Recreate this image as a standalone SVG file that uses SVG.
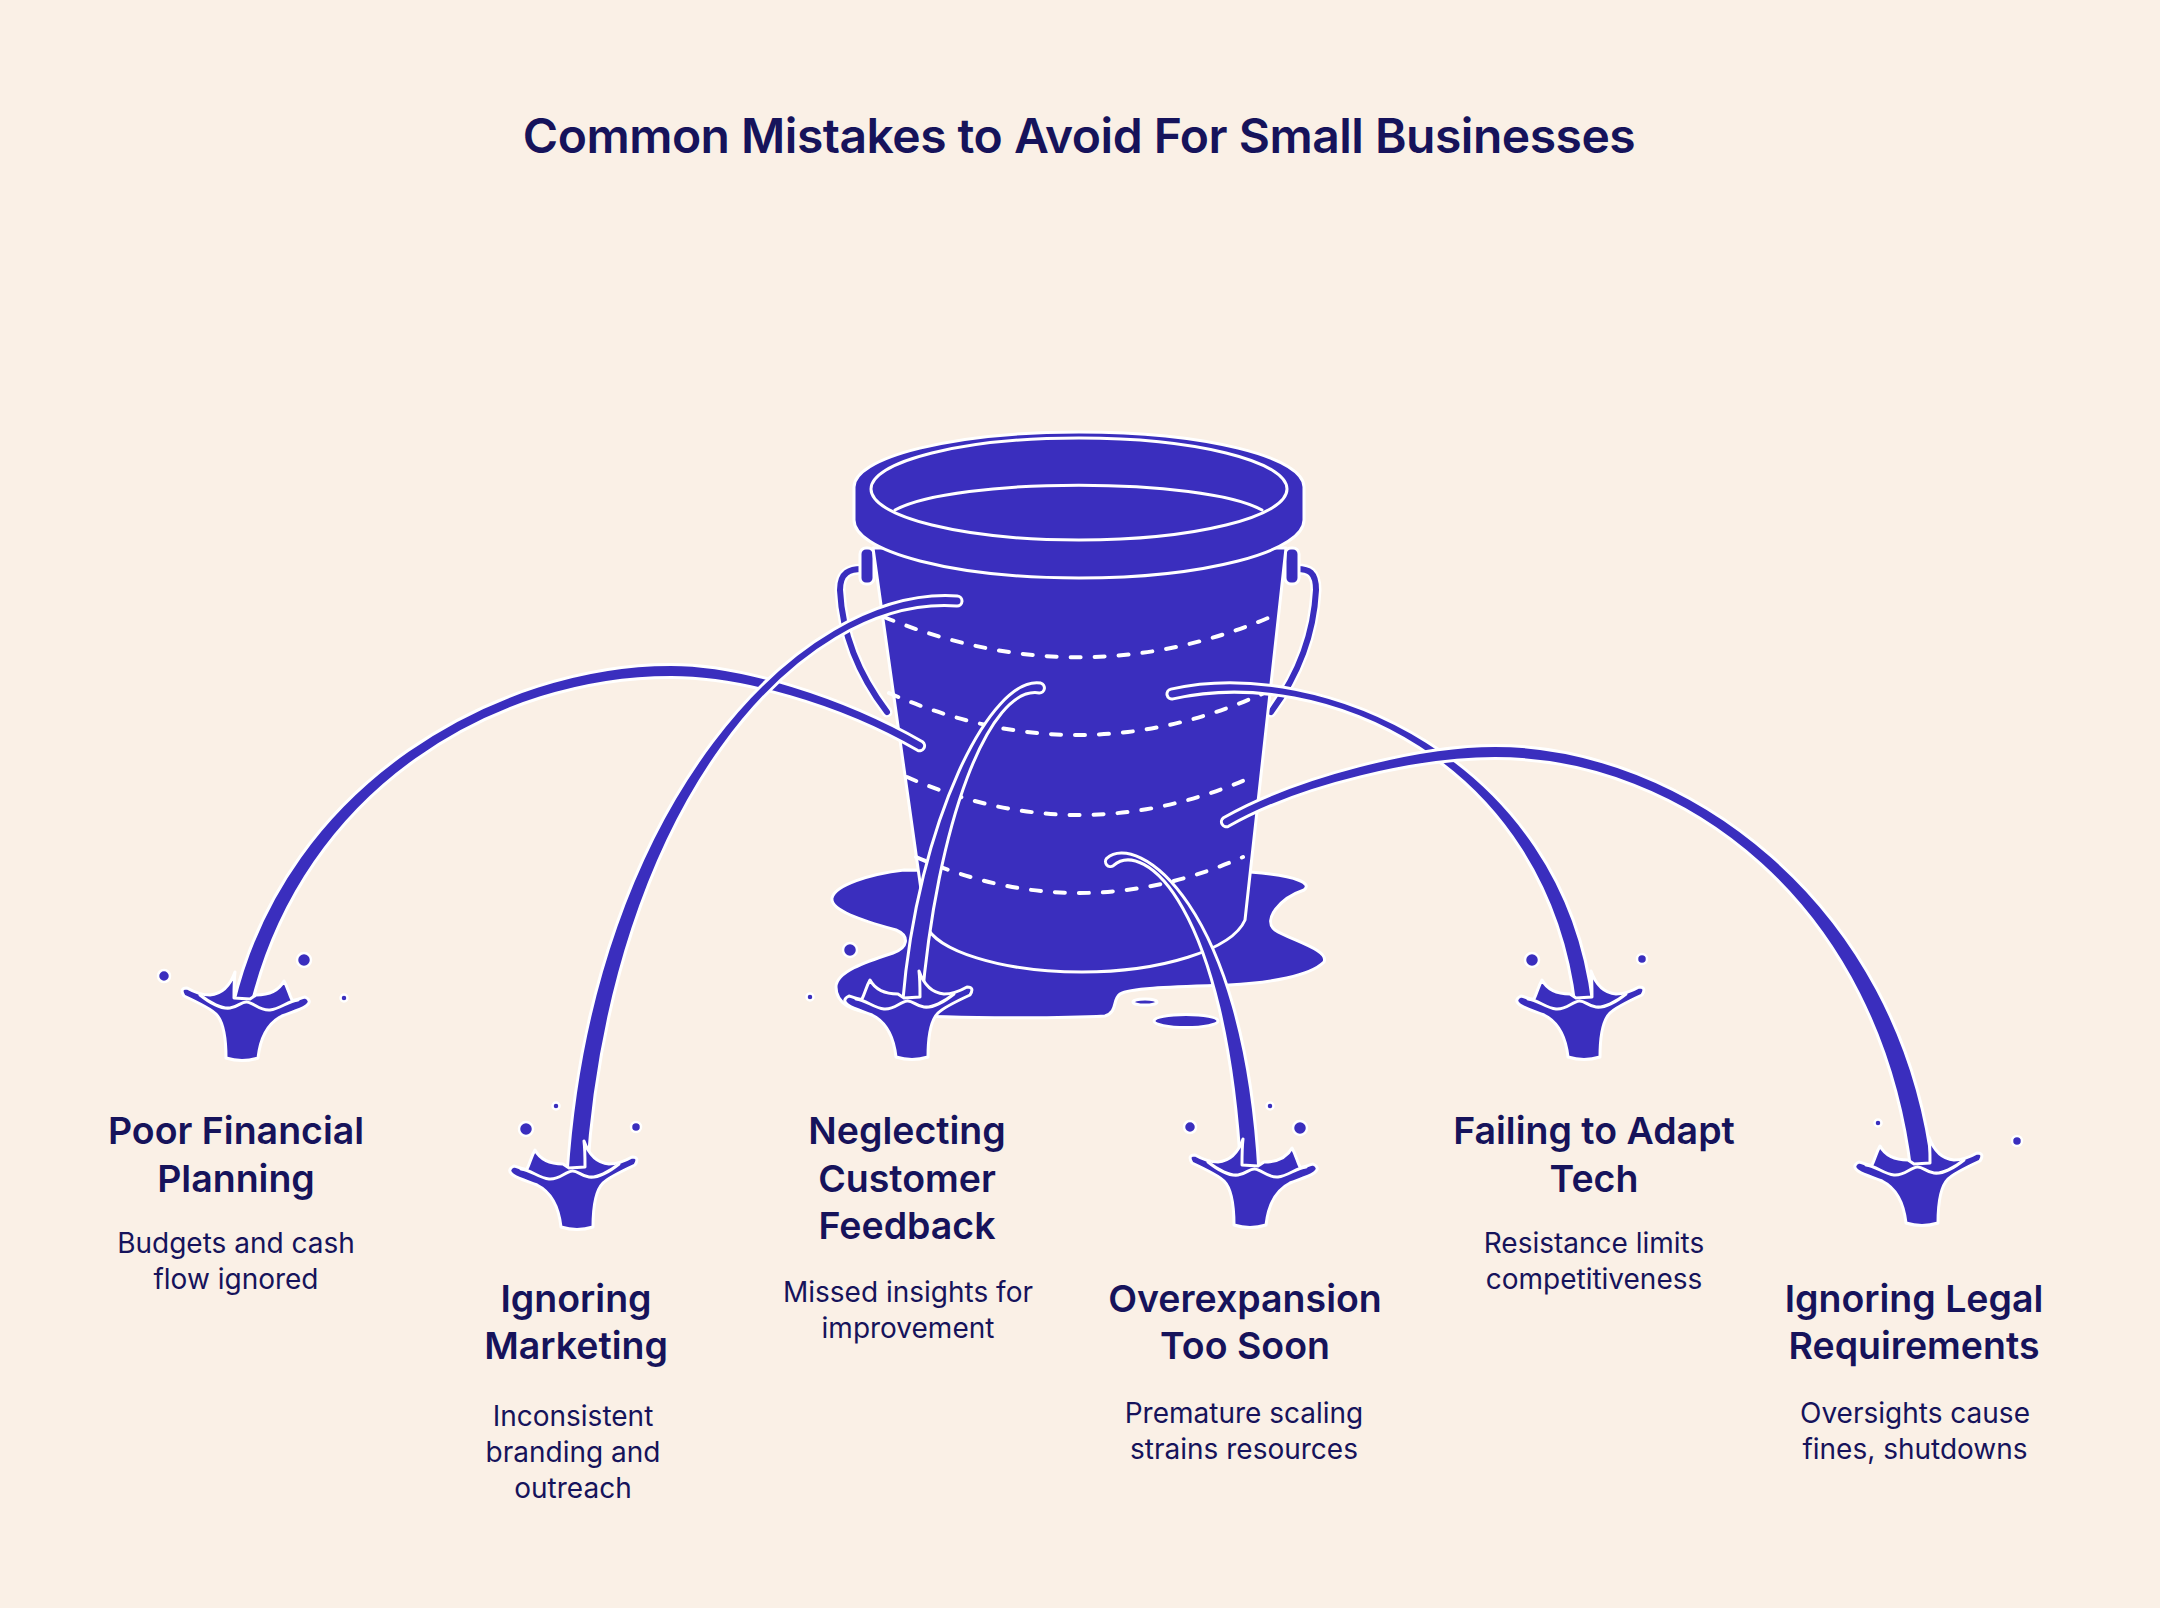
<svg xmlns="http://www.w3.org/2000/svg" xmlns:xlink="http://www.w3.org/1999/xlink" width="2160" height="1608" viewBox="0 0 2160 1608">
<style>
.bg{fill:#FAF0E6}
.blue{fill:#3A2EBE;stroke:#FFFFFF;stroke-width:3;stroke-linejoin:round}
.wire{fill:none;stroke:#3A2EBE;stroke-width:6;stroke-linecap:round}
.wireo{fill:none;stroke:#FFFFFF;stroke-width:11;stroke-linecap:round}
.wl{fill:none;stroke:#FFFFFF;stroke-width:3;stroke-linecap:round}
.dash{fill:none;stroke:#FFFFFF;stroke-width:4;stroke-linecap:round;stroke-dasharray:10 14}
.drop{fill:#3A2EBE;stroke:#FFFFFF;stroke-width:2.5}
.ttl{font-family:Inter,"Liberation Sans",sans-serif;font-weight:600;font-size:48px;letter-spacing:-0.5px;fill:#16135B;text-anchor:middle}
.h{font-family:Inter,"Liberation Sans",sans-serif;font-weight:600;font-size:37.5px;fill:#16135B;text-anchor:middle}
.d{font-family:Inter,"Liberation Sans",sans-serif;font-weight:400;font-size:28px;fill:#16135B;text-anchor:middle}
</style>
<defs>
<g id="splashA">
<path class="blue" d="M -16,0 Q 0,5 16,0 C 18,-18 24,-34 40,-42 C 50,-46 58,-48 64,-52 Q 71,-57 63,-61 C 58,-60 54,-57 50,-58 C 47,-64 46,-70 42,-77 C 36,-66 26,-63 14,-63 L 8,-59 L -8,-60 C -8,-70 -8,-78 -7,-86 C -12,-72 -20,-64 -32,-63 C -40,-63 -48,-66 -55,-70 Q -63,-70 -58,-62 C -45,-56 -32,-50 -26,-44 C -18,-36 -16,-18 -16,0 Z"/>
<path class="wl" d="M -42,-63 C -32,-55 -20,-49 -12,-50 C -4,-51 0,-57 5,-56 C 12,-55 18,-47 28,-48 C 38,-49 46,-57 56,-58"/>
</g>
</defs>
<rect class="bg" x="0" y="0" width="2160" height="1608"/>
<g id="title">
<text class="ttl" x="1079" y="153">Common Mistakes to Avoid For Small Businesses</text>
</g>
<g id="bucket">
<path class="blue" d="M 904,870 C 870,874 835,885 832,898 C 830,910 860,920 896,930 C 910,936 908,948 893,953 C 865,962 836,972 836,987 C 836,1003 850,1012 880,1014 C 940,1018 1050,1019 1105,1016 C 1118,1012 1112,1000 1120,994 C 1130,988 1170,987 1229,985 C 1270,983 1310,976 1324,962 C 1330,950 1290,940 1275,930 C 1262,920 1280,898 1304,890 C 1312,884 1300,876 1250,872 Z"/>
<ellipse class="blue" cx="1145" cy="1002" rx="12" ry="3"/>
<ellipse class="blue" cx="1186" cy="1021" rx="32" ry="6.5"/>
<path class="wireo" d="M 862,569 C 850,569 840,572 840,590 C 842,630 855,670 887,712"/>
<path class="wire" d="M 862,569 C 850,569 840,572 840,590 C 842,630 855,670 887,712"/>
<path class="wireo" d="M 1297,569 C 1309,569 1316,572 1316,590 C 1314,630 1302,670 1271,712"/>
<path class="wire" d="M 1297,569 C 1309,569 1316,572 1316,590 C 1314,630 1302,670 1271,712"/>
<rect class="blue" x="860" y="548" width="14" height="36" rx="6"/>
<rect class="blue" x="1285" y="548" width="14" height="36" rx="6"/>
<path class="blue" d="M 873,548 L 926,925 C 935,950 1000,972 1082,972 C 1160,972 1232,950 1245,920 L 1286,548 Z"/>
<path class="dash" d="M 884,617 Q 1079,697 1268,618"/>
<path class="dash" d="M 889,693 Q 1079,777 1264,693"/>
<path class="dash" d="M 907,777 Q 1079,853 1252,777"/>
<path class="dash" d="M 916,857 Q 1079,929 1243,857"/>
<path class="blue" d="M 854,487 A 225 55 0 0 1 1304,487 L 1304,520 A 225 58 0 0 1 854,520 Z"/>
<ellipse class="blue" cx="1079" cy="489" rx="208" ry="51"/>
<path class="wl" d="M 895,510 C 955,477 1203,477 1262,510"/>
</g>
<g id="connectors">
<path class="blue" d="M 917.5,750.3 C 837.5,704.3 740,677.5 671,677.5 C 500,677.5 303.8,785.1 250.8,1008.1 L 233.2,1003.9 C 286.2,780.9 500,664.5 671,664.5 C 740,664.5 842.5,695.7 922.5,741.7 A 5 5 0 0 1 917.5,750.3 Z"/>
<path class="blue" d="M 956.65,606 C 799.65,595 611,804.6 587,1175.6 L 567,1174.4 C 591,803.4 800.35,585 957.35,596 A 5 5 0 0 1 956.65,606 Z"/>
<path class="blue" d="M 1039.2,692.9 C 989.2,684.9 936.5,822.8 921.5,1005.8 L 902.5,1004.2 C 917.5,821.2 990.8,675.1 1040.8,683.1 A 5 5 0 0 1 1039.2,692.9 Z"/>
<path class="blue" d="M 1106.7,858.3 C 1136.7,831.3 1244,902.5 1259,1172.5 L 1241,1173.5 C 1226,903.5 1143.3,838.7 1113.3,865.7 A 5 5 0 0 1 1106.7,858.3 Z"/>
<path class="blue" d="M 1170.9,689.1 C 1318.9,655.1 1563.9,757.9 1592.9,1003.9 L 1575.1,1006.1 C 1546.1,760.1 1321.1,664.9 1173.1,698.9 A 5 5 0 0 1 1170.9,689.1 Z"/>
<path class="blue" d="M 1223.5,817.7 C 1297.5,775.7 1420,745.5 1495,745.5 C 1680,745.5 1900.9,898.7 1932.9,1169.7 L 1911.1,1172.3 C 1879.1,901.3 1680,758.5 1495,758.5 C 1420,758.5 1302.5,784.3 1228.5,826.3 A 5 5 0 0 1 1223.5,817.7 Z"/>
</g>
<g id="node-1">
<use xlink:href="#splashA" href="#splashA" transform="translate(242,1058)"/>
<circle class="drop" cx="164" cy="976" r="6"/>
<circle class="drop" cx="304" cy="960" r="7"/>
<circle class="drop" cx="344" cy="998" r="3.5"/>
<text class="h" x="236" y="1144">Poor Financial</text>
<text class="h" x="236" y="1192">Planning</text>
<text class="d" x="236" y="1253">Budgets and cash</text>
<text class="d" x="236" y="1289">flow ignored</text>
</g>
<g id="node-2">
<use xlink:href="#splashA" href="#splashA" transform="translate(577,1227) scale(-1,1)"/>
<circle class="drop" cx="526" cy="1129" r="7"/>
<circle class="drop" cx="556" cy="1106" r="3.5"/>
<circle class="drop" cx="636" cy="1127" r="5"/>
<text class="h" x="576" y="1312">Ignoring</text>
<text class="h" x="576" y="1359">Marketing</text>
<text class="d" x="573" y="1426">Inconsistent</text>
<text class="d" x="573" y="1462">branding and</text>
<text class="d" x="573" y="1498">outreach</text>
</g>
<g id="node-3">
<use xlink:href="#splashA" href="#splashA" transform="translate(912,1057) scale(-1,1)"/>
<circle class="drop" cx="850" cy="950" r="7"/>
<circle class="drop" cx="810" cy="997" r="3.5"/>
<text class="h" x="907" y="1144">Neglecting</text>
<text class="h" x="907" y="1192">Customer</text>
<text class="h" x="907" y="1239">Feedback</text>
<text class="d" x="908" y="1302">Missed insights for</text>
<text class="d" x="908" y="1338">improvement</text>
</g>
<g id="node-4">
<use xlink:href="#splashA" href="#splashA" transform="translate(1250,1225)"/>
<circle class="drop" cx="1190" cy="1127" r="6"/>
<circle class="drop" cx="1270" cy="1106" r="3.5"/>
<circle class="drop" cx="1300" cy="1128" r="7"/>
<text class="h" x="1245" y="1312">Overexpansion</text>
<text class="h" x="1245" y="1359">Too Soon</text>
<text class="d" x="1244" y="1423">Premature scaling</text>
<text class="d" x="1244" y="1459">strains resources</text>
</g>
<g id="node-5">
<use xlink:href="#splashA" href="#splashA" transform="translate(1584,1057) scale(-1,1)"/>
<circle class="drop" cx="1532" cy="960" r="7"/>
<circle class="drop" cx="1642" cy="959" r="5"/>
<text class="h" x="1594" y="1144">Failing to Adapt</text>
<text class="h" x="1594" y="1192">Tech</text>
<text class="d" x="1594" y="1253">Resistance limits</text>
<text class="d" x="1594" y="1289">competitiveness</text>
</g>
<g id="node-6">
<use xlink:href="#splashA" href="#splashA" transform="translate(1922,1223) scale(-1,1)"/>
<circle class="drop" cx="1878" cy="1123" r="3.5"/>
<circle class="drop" cx="2017" cy="1141" r="5"/>
<text class="h" x="1914" y="1312">Ignoring Legal</text>
<text class="h" x="1914" y="1359">Requirements</text>
<text class="d" x="1915" y="1423">Oversights cause</text>
<text class="d" x="1915" y="1459">fines, shutdowns</text>
</g>
</svg>
